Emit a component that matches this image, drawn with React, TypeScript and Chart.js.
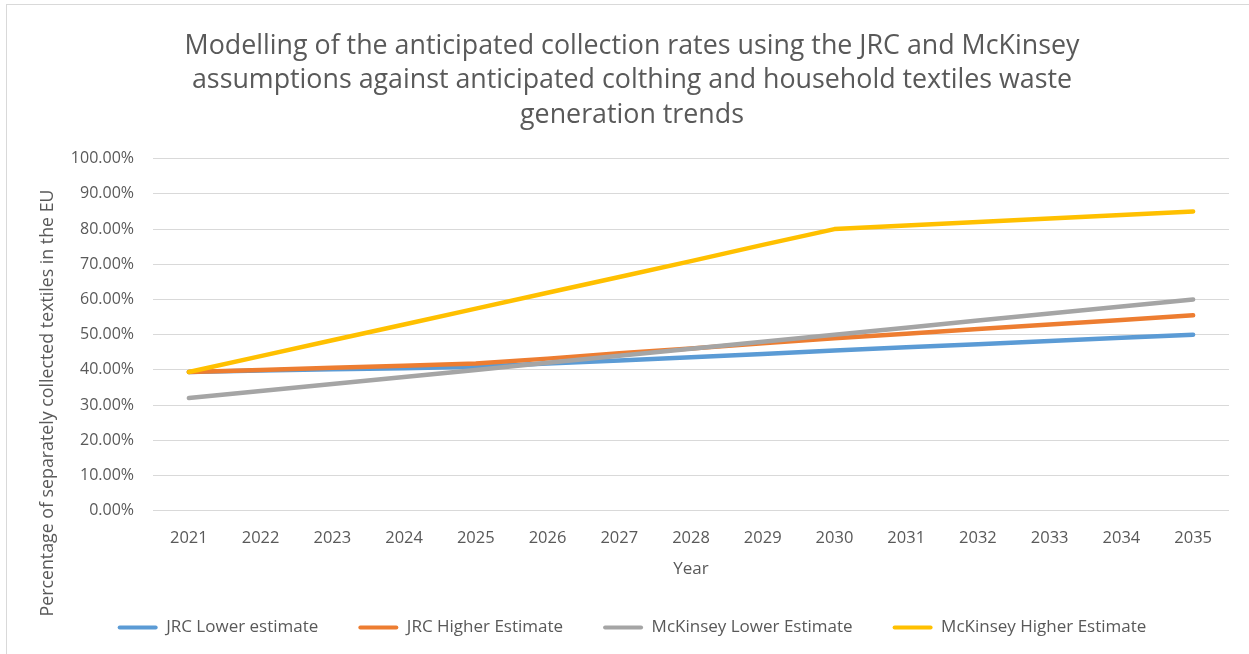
import React, { useEffect, useRef } from "react";
import { Chart, registerables } from "chart.js";

Chart.register(...registerables);

const years = ["2021", "2022", "2023", "2024", "2025", "2026", "2027", "2028", "2029", "2030", "2031", "2032", "2033", "2034", "2035"];
const jrcLower = [39.4, 39.8, 40.2, 40.5, 40.9, 41.8, 42.7, 43.6, 44.5, 45.5, 46.4, 47.3, 48.2, 49.1, 50.0];
const jrcHigher = [39.4, 40.0, 40.6, 41.2, 41.8, 43.2, 44.7, 46.1, 47.6, 49.0, 50.3, 51.6, 52.9, 54.2, 55.5];
const mckLower = [32, 34, 36, 38, 40, 42, 44, 46, 48, 50, 52, 54, 56, 58, 60];
const mckHigher = [39.4, 43.9, 48.4, 52.9, 57.4, 61.9, 66.4, 70.9, 75.5, 80, 81, 82, 83, 84, 85];

const titleLines = [
  "Modelling of the anticipated collection rates using the JRC and McKinsey",
  "assumptions against anticipated colthing and household textiles waste",
  "generation trends",
];
const yAxisTitle = "Percentage of separately collected textiles in the EU";
const xAxisTitle = "Year";

const seriesNames = ["JRC Lower estimate", "JRC Higher Estimate", "McKinsey Lower Estimate", "McKinsey Higher Estimate"];
const seriesColors = ["#5b9bd5", "#ed7d31", "#a5a5a5", "#ffc000"];

const TEXT = "#595959";
const FONT = "'Open Sans', sans-serif";

export default function App() {
  const ref = useRef<HTMLCanvasElement | null>(null);

  useEffect(() => {
    if (!ref.current) return;
    const values = [jrcLower, jrcHigher, mckLower, mckHigher];
    const yTitlePlugin = {
      id: "yTitle",
      afterDraw(chart: any) {
        const ctx = chart.ctx;
        ctx.save();
        ctx.translate(41, 398);
        ctx.rotate(-Math.PI / 2);
        ctx.textAlign = "center";
        ctx.textBaseline = "middle";
        ctx.font = `17.8px ${FONT}`;
        ctx.fillStyle = TEXT;
        ctx.fillText(yAxisTitle, 0, 0);
        ctx.restore();
      },
    };
    const chart = new Chart(ref.current, {
      type: "line",
      data: {
        labels: years,
        datasets: values.map((v, i) => ({
          label: seriesNames[i],
          data: v,
          borderColor: seriesColors[i],
          backgroundColor: seriesColors[i],
          borderWidth: 4.5,
          borderCapStyle: "round",
          borderJoinStyle: "round",
          pointRadius: 0,
          tension: 0,
          order: 4 - i,
        })),
      },
      options: {
        responsive: false,
        animation: false,
        layout: { padding: { left: 0, right: 0, top: 0, bottom: 19 } },
        plugins: {
          title: {
            display: true,
            text: titleLines,
            color: TEXT,
            font: { family: FONT, size: 26.8, weight: "normal", lineHeight: 1.287 },
            padding: { top: 24, bottom: 26.2 },
          },
          legend: {
            position: "bottom",
            labels: {
              boxWidth: 40,
              boxHeight: 4,
              padding: 40,
              color: TEXT,
              font: { family: FONT, size: 17 },
              sort: (a: any, b: any) => a.datasetIndex - b.datasetIndex,
              generateLabels: (c: any) =>
                c.data.datasets.map((d: any, i: number) => ({
                  text: d.label,
                  fillStyle: d.borderColor,
                  strokeStyle: d.borderColor,
                  lineWidth: 0,
                  borderRadius: 2,
                  hidden: false,
                  datasetIndex: i,
                  fontColor: TEXT,
                })),
            },
          },
          tooltip: { enabled: false },
        },
        scales: {
          x: {
            offset: true,
            grid: { display: false },
            border: { display: false },
            ticks: { color: TEXT, font: { family: FONT, size: 16.5 }, padding: 10, maxRotation: 0 },
            title: {
              display: true,
              text: xAxisTitle,
              color: TEXT,
              font: { family: FONT, size: 17 },
              padding: { top: 12, bottom: 0 },
            },
            afterFit: (s: any) => {
              s.height = 68.3;
            },
          },
          y: {
            min: 0,
            max: 100,
            border: { display: false },
            grid: { color: "#d9d9d9", lineWidth: 1, drawTicks: false },
            ticks: {
              stepSize: 10,
              color: TEXT,
              font: { family: FONT, size: 16 },
              padding: 19,
              callback: (v: any) => Number(v).toFixed(2) + "%",
            },
            afterFit: (s: any) => {
              s.width = 146;
            },
          },
          yRightSpace: {
            position: "right",
            display: true,
            grid: { display: false },
            border: { display: false },
            ticks: { display: false },
            afterFit: (s: any) => {
              s.width = 28;
            },
          },
        },
      },
      plugins: [yTitlePlugin],
    } as any);
    return () => chart.destroy();
  }, []);

  return (
    <div
      style={{
        position: "fixed",
        left: 6,
        top: 4,
        border: "1px solid #d9d9d9",
        background: "#fff",
        width: 1250,
        height: 660,
      }}
    >
      <canvas ref={ref} width={1250} height={660} style={{ display: "block", width: 1250, height: 660 }} />
    </div>
  );
}
